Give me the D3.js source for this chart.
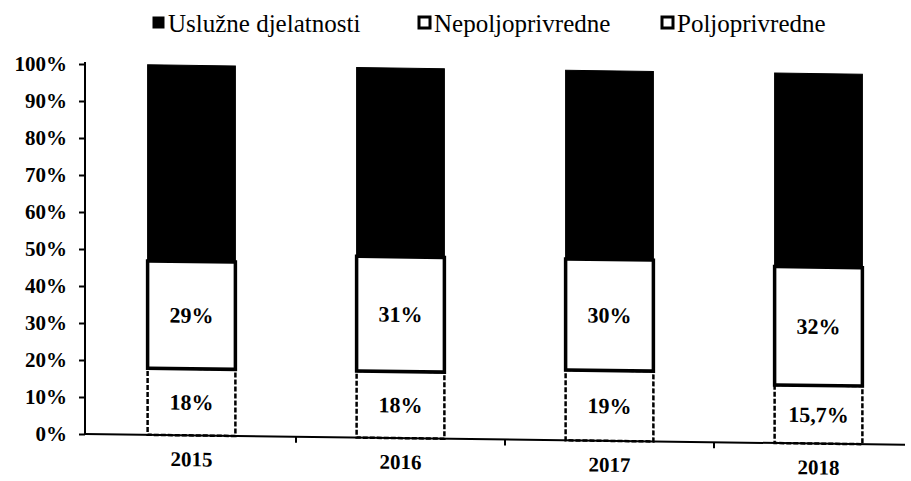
<!DOCTYPE html>
<meta charset="utf-8">
<style>
    body { margin: 0; background: #fff; }
    svg text { font-family: "Liberation Serif", "Times New Roman", serif; fill: #000; }
    .axis path, .axis line { stroke: #000; stroke-width: 2px; }
    .ylab text { font-weight: bold; font-size: 21px; }
    .xlab text { font-weight: bold; font-size: 21px; }
</style>
<svg width="911" height="481" font-family="Liberation Serif"></svg>
<script src="https://cdn.jsdelivr.net/npm/d3@7"></script>
<script>
    // data
    var years = ["2015", "2016", "2017", "2018"];
    var poljoprivredne = [18, 18, 19, 15.7];
    var nepoljoprivredne = [29, 31, 30, 32];
    var usluzne = [53, 51, 51, 52.3];
    var keys = ["Poljoprivredne", "Nepoljoprivredne", "Uslužne djelatnosti"];
    var legendOrder = ["Uslužne djelatnosti", "Nepoljoprivredne", "Poljoprivredne"];
    var yTicks = [0, 10, 20, 30, 40, 50, 60, 70, 80, 90, 100];

    (function () {
        var svg = d3.select("svg"),
            left = 85, bottom = 434, top = 64;

        var rows = years.map(function (y, i) {
            return {
                year: y,
                "Poljoprivredne": poljoprivredne[i],
                "Nepoljoprivredne": nepoljoprivredne[i],
                "Uslužne djelatnosti": usluzne[i]
            };
        });
        var series = d3.stack().keys(keys)(rows);

        var x = d3.scaleBand().domain(years).range([87, 923]).paddingInner(0.58).paddingOuter(0.29),
            y = d3.scaleLinear().domain([0, 100]).range([bottom, top]);

        var hr = d3.formatLocale({decimal: ",", thousands: ".", grouping: [3], currency: ["", " kn"]});
        function pct(v) {
            return (Number.isInteger(v) ? v : hr.format(".1f")(v)) + "%";
        }

        // y axis stays straight, the plotted part is a little skewed like the scan
        var yAxis = svg.append("g")
            .attr("class", "axis ylab")
            .attr("transform", "translate(" + left + ",0)")
            .call(d3.axisLeft(y).tickValues(yTicks).tickSize(6).tickPadding(12)
                .tickFormat(function (d) { return d + "%"; }));
        yAxis.attr("font-family", null);
        yAxis.select(".domain").attr("d", "M0," + (top - 2) + "V" + bottom);

        var plot = svg.append("g")
            .attr("transform", "translate(" + left + ",0) skewY(0.75) translate(" + (-left) + ",0)");

        var styles = {
            "Poljoprivredne": {fill: "#fff", stroke: "#000", width: 2.5, dash: "5,2"},
            "Nepoljoprivredne": {fill: "#fff", stroke: "#000", width: 3.5, dash: null},
            "Uslužne djelatnosti": {fill: "#000", stroke: "#000", width: 1, dash: null}
        };

        var layer = plot.selectAll("g.layer")
            .data(series)
            .enter().append("g")
            .attr("class", "layer");

        layer.selectAll("rect")
            .data(function (s) { return s.map(function (d) { return {key: s.key, d: d}; }); })
            .enter().append("rect")
            .attr("x", function (o) { return x(o.d.data.year); })
            .attr("width", x.bandwidth())
            .attr("y", function (o) { return y(o.d[1]); })
            .attr("height", function (o) { return y(o.d[0]) - y(o.d[1]); })
            .attr("fill", function (o) { return styles[o.key].fill; })
            .attr("stroke", function (o) { return styles[o.key].stroke; })
            .attr("stroke-width", function (o) { return styles[o.key].width; })
            .attr("stroke-dasharray", function (o) { return styles[o.key].dash; });

        // value labels on the two lower segments
        series.slice(0, 2).forEach(function (s) {
            plot.selectAll(null)
                .data(s)
                .enter().append("text")
                .attr("x", function (d) { return x(d.data.year) + x.bandwidth() / 2; })
                .attr("y", function (d) { return (y(d[0]) + y(d[1])) / 2; })
                .attr("dy", "0.35em")
                .attr("text-anchor", "middle")
                .style("font-weight", "bold")
                .style("font-size", "22px")
                .text(function (d) { return pct(d[1] - d[0]); });
        });

        // x axis
        var xAxis = plot.append("g")
            .attr("class", "axis xlab")
            .attr("transform", "translate(0," + bottom + ")")
            .call(d3.axisBottom(x).tickSize(0).tickPadding(16));
        xAxis.attr("font-family", null);
        xAxis.select(".domain").attr("d", "M" + left + ",0H905");
        xAxis.selectAll(".sep")
            .data(years.slice(1))
            .enter().append("line")
            .attr("class", "sep")
            .attr("x1", function (d) { return x(d) - x.step() * x.paddingInner() / 2; })
            .attr("x2", function (d) { return x(d) - x.step() * x.paddingInner() / 2; })
            .attr("y1", 0)
            .attr("y2", 6);

        // legend
        var legX = [153, 419, 662];
        var leg = svg.append("g").selectAll("g")
            .data(legendOrder)
            .enter().append("g")
            .attr("transform", function (d, i) { return "translate(" + legX[i] + ",23)"; });
        leg.append("rect")
            .attr("x", 0).attr("y", -6)
            .attr("width", 11).attr("height", 11)
            .attr("fill", function (d) { return d === "Uslužne djelatnosti" ? "#000" : "#fff"; })
            .attr("stroke", "#000")
            .attr("stroke-width", function (d) { return d === "Uslužne djelatnosti" ? 1 : 3; });
        leg.append("text")
            .attr("x", 15)
            .attr("dy", "0.35em")
            .style("font-size", "25px")
            .text(function (d) { return d; });
    })();
</script>
